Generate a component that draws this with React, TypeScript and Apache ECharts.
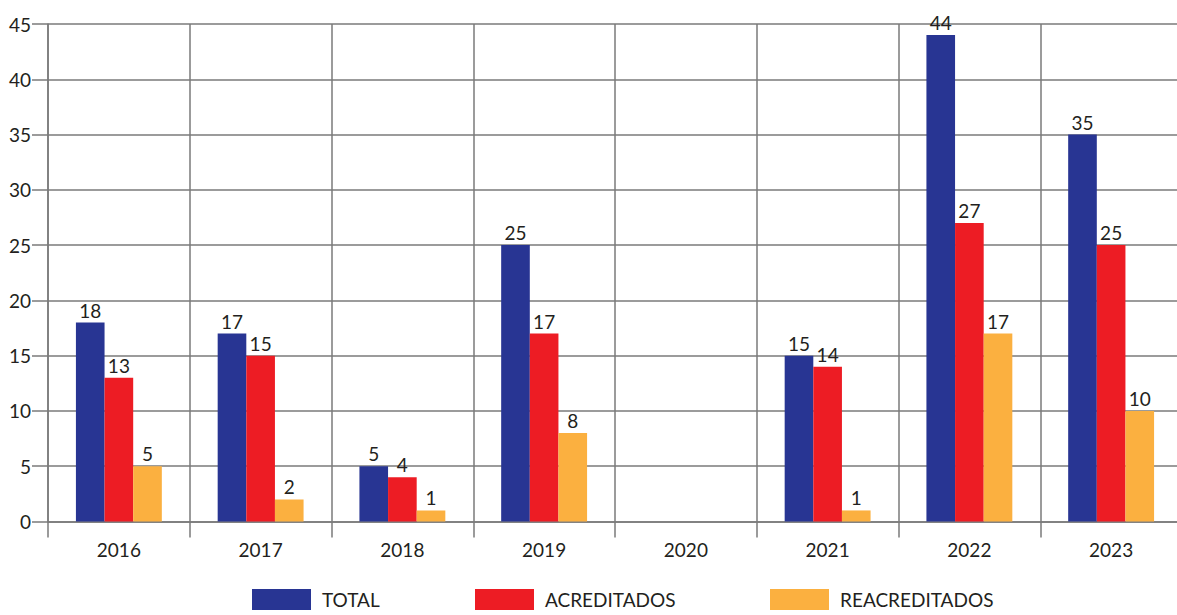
import React, { useEffect, useRef } from "react";
import * as echarts from "echarts";

const categories = ["2016", "2017", "2018", "2019", "2020", "2021", "2022", "2023"];
const totalValues = [18, 17, 5, 25, null, 15, 44, 35];
const acreditadosValues = [13, 15, 4, 17, null, 14, 27, 25];
const reacreditadosValues = [5, 2, 1, 8, null, 1, 17, 10];
const yTicks = { min: 0, max: 45, interval: 5 };

const FONT = "Lato, 'Noto Sans', sans-serif";
const TEXT = "#231f20";
const LINE = "#7a7a7a";

export default function App() {
  const ref = useRef<HTMLDivElement>(null);
  useEffect(() => {
    if (!ref.current) return;
    const chart = echarts.init(ref.current, undefined, { renderer: "svg" });
    const label = {
      show: true,
      position: "top",
      distance: 3,
      color: TEXT,
      fontSize: 19,
      fontFamily: FONT,
    };
    const mk = (name: string, data: (number | null)[], color: string) => ({
      name,
      type: "bar",
      data,
      barGap: "0%",
      barCategoryGap: "39.4%",
      itemStyle: { color },
      label,
    });
    const legendBase = {
      top: 584,
      itemWidth: 59,
      itemHeight: 21,
      icon: "rect",
      itemGap: 0,
      textStyle: { fontSize: 19, color: TEXT, fontFamily: FONT, padding: [0, 0, 0, 6] },
    };
    chart.setOption({
      animation: false,
      textStyle: { fontFamily: FONT },
      grid: { left: 48, right: 0, top: 24, bottom: 93.5, containLabel: false },
      legend: [
        { ...legendBase, left: 247, data: ["TOTAL"] },
        { ...legendBase, left: 470, data: ["ACREDITADOS"] },
        { ...legendBase, left: 765, data: ["REACREDITADOS"] },
      ],
      xAxis: {
        type: "category",
        data: categories,
        axisLine: { show: true, lineStyle: { color: LINE, width: 1.5 } },
        axisTick: { show: true, length: 16, lineStyle: { color: LINE, width: 1.5 } },
        splitLine: { show: true, lineStyle: { color: LINE, width: 1.5 } },
        axisLabel: { color: TEXT, fontSize: 19, fontFamily: FONT, margin: 18 },
      },
      yAxis: {
        type: "value",
        min: yTicks.min,
        max: yTicks.max,
        interval: yTicks.interval,
        axisLine: { show: true, lineStyle: { color: LINE, width: 1.5 } },
        axisTick: { show: true, length: 16, lineStyle: { color: LINE, width: 1.5 } },
        splitLine: { show: true, lineStyle: { color: LINE, width: 1.5 } },
        axisLabel: { color: TEXT, fontSize: 19, fontFamily: FONT, margin: 17 },
      },
      series: [
        mk("TOTAL", totalValues, "#283593"),
        mk("ACREDITADOS", acreditadosValues, "#ed1c24"),
        mk("REACREDITADOS", reacreditadosValues, "#fbb040"),
      ],
    });
    return () => chart.dispose();
  }, []);
  return (
    <div
      style={{
        position: "absolute",
        left: 0,
        top: 0,
        width: 1177,
        height: 615,
        overflow: "hidden",
      }}
    >
      <div ref={ref} style={{ width: 1182, height: 615 }} />
    </div>
  );
}
